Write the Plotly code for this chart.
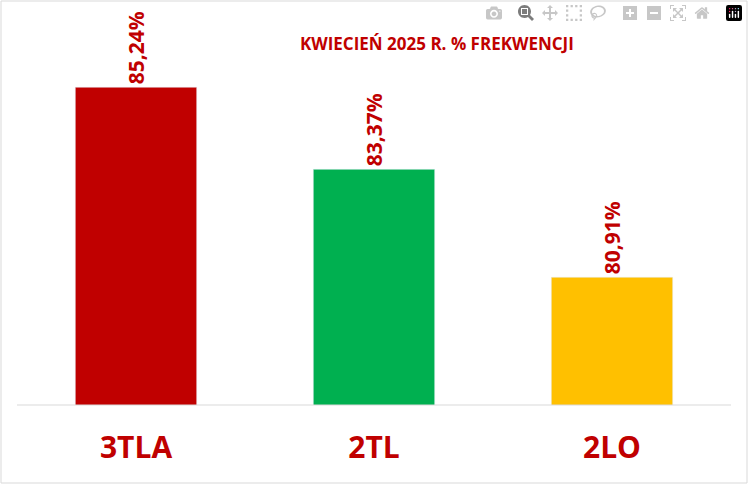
import plotly.graph_objects as go

categories = ['3TLA', '2TL', '2LO']
values = [85.24, 83.37, 80.91]
labels = ['85,24%', '83,37%', '80,91%']
colors = ['#C00000', '#00B050', '#FFC000']

W, H = 748, 484
L, R, T, B = 17, 17, 10, 79
pw, ph = W - L - R, H - T - B

fig = go.Figure(go.Bar(
    x=categories, y=values, base=0,
    marker_color=colors, width=0.51,
    text=labels, textposition='outside', textangle=-90, cliponaxis=False,
    textfont=dict(family='Open Sans', size=21, color='#C00000', weight='bold'),
))

fig.update_layout(
    width=W, height=H, margin=dict(l=L, r=R, t=T, b=B),
    plot_bgcolor='white', paper_bgcolor='white', showlegend=False,
    bargap=0.49,
    annotations=[dict(
        text='KWIECIEŃ 2025 R. % FREKWENCJI', x=(437 - L) / pw, y=(H - B - 30) / ph,
        xref='paper', yref='paper', showarrow=False,
        font=dict(family='Open Sans', size=17, color='#C00000', weight='bold'),
    )],
    shapes=[
        dict(type='rect', xref='paper', yref='paper',
             x0=-(L - 1) / pw, x1=1 + (R - 1) / pw, y0=-(B - 1) / ph, y1=1 + (T - 1) / ph,
             line=dict(color='#D9D9D9', width=1)),
        dict(type='line', xref='paper', yref='paper', x0=0, x1=1, y0=0, y1=0,
             line=dict(color='#D9D9D9', width=1)),
    ],
)
fig.update_yaxes(range=[78, 87], visible=False)
fig.update_xaxes(
    showline=False, ticks='', ticklabelstandoff=22,
    tickfont=dict(family='Open Sans', size=30, color='#C00000', weight='bold'),
)

fig.write_html('out.html', post_script="document.body.style.margin='0';document.body.style.overflow='hidden';")
